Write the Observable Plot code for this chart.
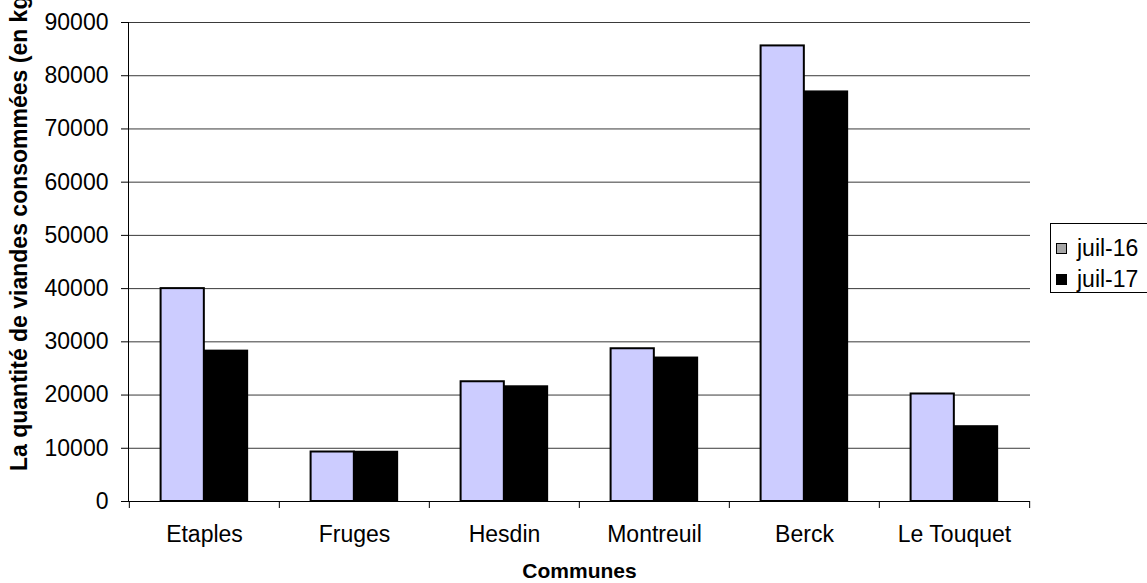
<!DOCTYPE html>
<html><head><meta charset="utf-8">
<script src="https://cdn.jsdelivr.net/npm/d3@7"></script>
<script src="https://cdn.jsdelivr.net/npm/@observablehq/plot@0.6"></script>
<style>
body{margin:0;background:#fff;font-family:"Liberation Sans",Arial,sans-serif;}
#wrap{position:relative;width:1147px;height:583px;overflow:hidden;background:#fff}
#legend{position:absolute;left:1050px;top:223px;width:120px;height:70px;border:1px solid #000;background:#fff;box-sizing:border-box;}
.item{position:absolute;left:5px;height:26px;font-size:23px;line-height:26px;color:#000;white-space:nowrap}
.sw{position:absolute;left:0;top:8px;width:11px;height:11px;box-sizing:border-box;border:1px solid #000}
.lab{position:absolute;left:21px;top:0}
</style></head><body>
<div id="wrap"><div id="chart"></div><div id="legend"></div></div>
<script>
const communes = ["Etaples", "Fruges", "Hesdin", "Montreuil", "Berck", "Le Touquet"];
const series = ["juil-16", "juil-17"];
const juil16 = [40000, 9300, 22500, 28700, 85600, 20200];
const juil17 = [28300, 9300, 21600, 27000, 77000, 14100];
const yTicks = [0, 10000, 20000, 30000, 40000, 50000, 60000, 70000, 80000, 90000];
const xTitle = "Communes";
const yTitle = "La quantité de viandes consommées (en kg)";

const rows16 = communes.map((c, i) => ({commune: c, serie: series[0], value: juil16[i]}));
const rows17 = communes.map((c, i) => ({commune: c, serie: series[1], value: juil17[i]}));

const W = 1147, H = 583, mL = 128, mR = 117, mT = 22, mB = 82;
const bw = (W - mL - mR) / communes.length;
const outer = 31.6, barW = (bw - 2 * outer) / 2;

const chart = Plot.plot({
  width: W, height: H,
  marginLeft: mL, marginRight: mR, marginTop: mT, marginBottom: mB,
  style: {fontFamily: "Liberation Sans, Arial, sans-serif", fontSize: "23px", color: "#000", background: "#fff"},
  x: {type: "band", domain: communes, padding: 0, axis: null, label: null},
  y: {domain: [0, 90000], axis: null, label: null},
  marks: [
    Plot.ruleY(yTicks.filter(d => d > 0), {stroke: "#3a3a3a", strokeWidth: 1}),
    Plot.barY(rows16, {x: "commune", y: "value", fill: "#ccccff", stroke: "#000", strokeWidth: 2, insetLeft: outer, insetRight: outer + barW}),
    Plot.barY(rows17, {x: "commune", y: "value", fill: "#000", stroke: "#000", strokeWidth: 1.5, insetLeft: outer + barW, insetRight: outer}),
    Plot.ruleY([0], {stroke: "#000", strokeWidth: 1}),
    Plot.frame({anchor: "left", stroke: "#000"}),
    Plot.axisY({ticks: yTicks, tickSize: 7, tickPadding: 13, tickFormat: d3.format("d"), fontSize: 23, stroke: "#000", label: null}),
    Plot.axisX({tickSize: 7, tickFormat: () => "", dx: -bw / 2, stroke: "#000", label: null}),
    Plot.axisX({ticks: [communes[communes.length - 1]], tickSize: 7, tickFormat: () => "", dx: bw / 2, stroke: "#000", label: null}),
    Plot.axisX({tickSize: 0, tickPadding: 24, fontSize: 23, label: null}),
    Plot.text([xTitle], {frameAnchor: "bottom", dy: 76, fontWeight: "bold", fontSize: 21}),
    Plot.text([yTitle], {frameAnchor: "left", rotate: -90, textAnchor: "start", dx: -109, dy: 209, fontWeight: "bold", fontSize: 23})
  ]
});
document.getElementById("chart").appendChild(chart);

const legend = document.getElementById("legend");
const legendFills = ["#a6a6a6", "#000"];
series.forEach((s, i) => {
  const it = document.createElement("div");
  it.className = "item";
  it.style.top = (11 + i * 31) + "px";
  const sw = document.createElement("div");
  sw.className = "sw";
  sw.style.background = legendFills[i];
  const lab = document.createElement("span");
  lab.className = "lab";
  lab.textContent = s;
  it.appendChild(sw); it.appendChild(lab);
  legend.appendChild(it);
});
</script>
</body></html>
